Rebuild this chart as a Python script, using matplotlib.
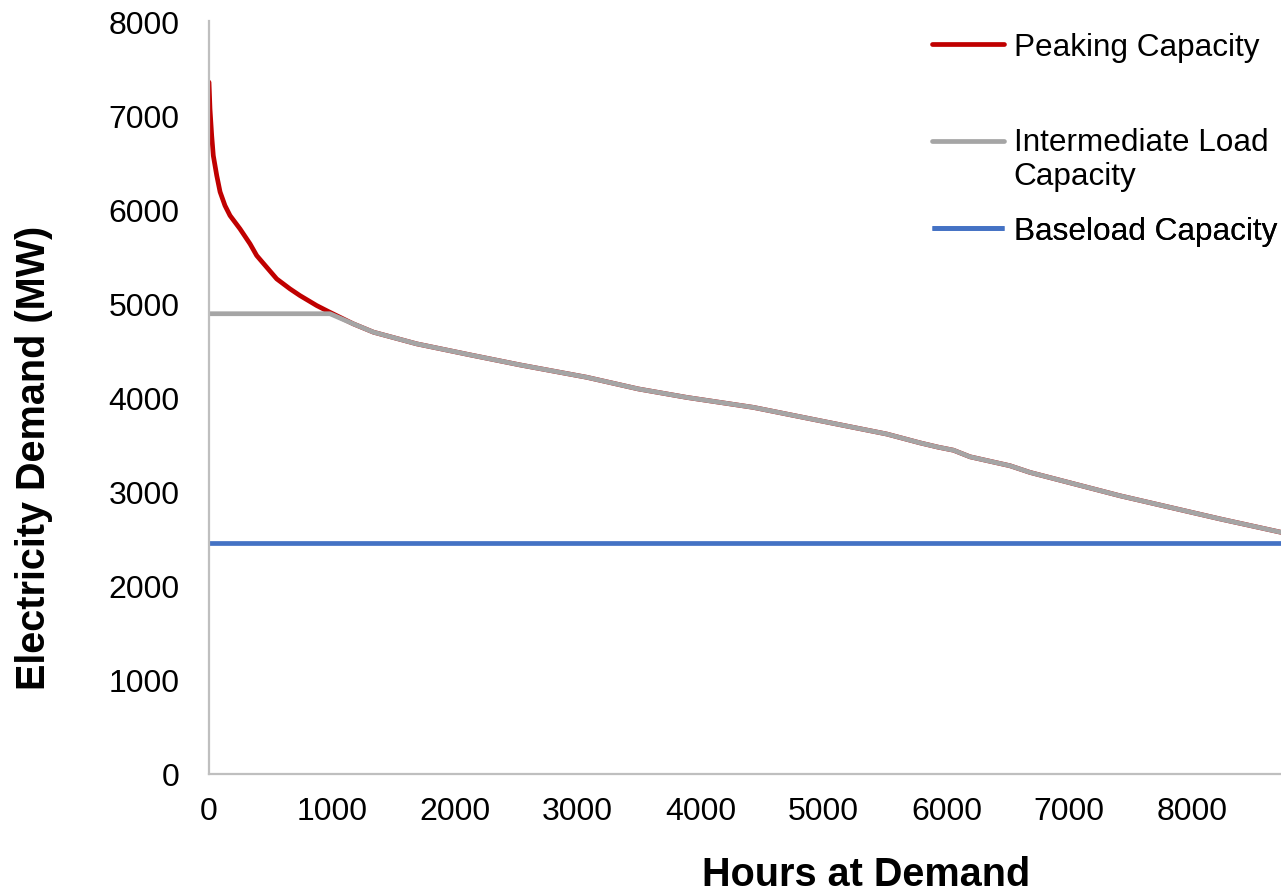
import numpy as np
import matplotlib
matplotlib.use("Agg")
import matplotlib.pyplot as plt
from matplotlib.legend_handler import HandlerLine2D

plt.rcParams['font.family'] = ['Liberation Sans', 'DejaVu Sans']

# ---- data ----
peak_hours = [0, 8, 22, 35, 63, 90, 130, 171, 252, 334, 388, 470, 551, 659, 740, 876,
              984, 1175, 1338, 1690, 2124, 2531, 3073, 3493, 3887, 4429, 4972, 5514,
              5785, 5934, 6057, 6192, 6517, 6680, 7412, 8226, 8722, 8760]
peak_demand = [7350, 7067, 6781, 6570, 6358, 6185, 6039, 5933, 5792, 5632, 5508, 5383,
               5260, 5154, 5083, 4977, 4905, 4782, 4694, 4570, 4453, 4346, 4215, 4091,
               4001, 3895, 3753, 3612, 3518, 3472, 3440, 3370, 3275, 3204, 2956, 2710,
               2568, 2555]

inter_hours = [0, 984, 1175, 1338, 1690, 2124, 2531, 3073, 3493, 3887, 4429, 4972,
               5514, 5785, 5934, 6057, 6192, 6517, 6680, 7412, 8226, 8722, 8760]
inter_demand = [4890, 4890, 4782, 4694, 4570, 4453, 4346, 4215, 4091, 4001, 3895, 3753,
                3612, 3518, 3472, 3440, 3370, 3275, 3204, 2956, 2710, 2568, 2555]

base_hours = [0, 8760]
base_demand = [2450, 2450]

x_ticks = [0, 1000, 2000, 3000, 4000, 5000, 6000, 7000, 8000]
y_ticks = [0, 1000, 2000, 3000, 4000, 5000, 6000, 7000, 8000]

labels = ["Peaking Capacity", "Intermediate Load\nCapacity", "Baseload Capacity"]
colors = ["#C00000", "#A5A5A5", "#4472C4"]

# ---- figure ----
W, H = 1281, 895
fig = plt.figure(figsize=(W / 100, H / 100), dpi=100)
ax_l, ax_r, ax_t, ax_b = 209, 1281, 22, 775
ax = fig.add_axes([ax_l / W, 1 - ax_b / H, (ax_r - ax_l) / W, (ax_b - ax_t) / H])

lw = 3.4
l1, = ax.plot(peak_hours, peak_demand, color=colors[0], lw=lw,
              solid_capstyle='round', solid_joinstyle='round')
l2, = ax.plot(inter_hours, inter_demand, color=colors[1], lw=lw,
              solid_capstyle='round', solid_joinstyle='round')
l3, = ax.plot(base_hours, base_demand, color=colors[2], lw=lw, solid_capstyle='butt')

ax.set_xlim(0, 8722)
ax.set_ylim(0, 8000)
ax.set_xticks(x_ticks)
ax.set_yticks(y_ticks)
ax.tick_params(axis='both', length=0, labelsize=23, colors='black')
ax.tick_params(axis='x', pad=16)
ax.tick_params(axis='y', pad=21)

for s in ['top', 'right']:
    ax.spines[s].set_visible(False)
for s in ['left', 'bottom']:
    ax.spines[s].set_color('#BFBFBF')
    ax.spines[s].set_linewidth(1.6)

ax.set_xlabel("Hours at Demand", fontsize=28.5, fontweight='bold', va='center')
ax.xaxis.set_label_coords((866 - ax_l) / (ax_r - ax_l), -(875 - ax_b) / (ax_b - ax_t))
ax.set_ylabel("Electricity Demand (MW)", fontsize=28.5, fontweight='bold', va='center')
ax.yaxis.set_label_coords((34.5 - ax_l) / (ax_r - ax_l), (ax_b - 457.5) / (ax_b - ax_t))


class ShiftedLine(HandlerLine2D):
    def __init__(self, shift_pts=0.0, **kw):
        super().__init__(**kw)
        self.shift_pts = shift_pts

    def create_artists(self, legend, orig_handle, xdescent, ydescent, width, height,
                       fontsize, trans):
        arts = super().create_artists(legend, orig_handle, xdescent, ydescent, width,
                                      height, fontsize, trans)
        for a in arts:
            a.set_ydata(np.asarray(a.get_ydata(), dtype=float) + self.shift_pts)
        return arts


leg_x = 931.7 / W
leg_specs = [(l1, labels[0], 48.3, 0.0),
             (l2, labels[1], 160.0, 13.0),
             (l3, labels[2], 232.0, 0.0)]
for handle, lab, ypx, shift in leg_specs:
    leg = ax.legend([handle], [lab], loc='center left',
                    bbox_to_anchor=(leg_x, 1 - ypx / H), bbox_transform=fig.transFigure,
                    frameon=False, fontsize=22.7, handlelength=2.3, handletextpad=0.3,
                    borderpad=0, borderaxespad=0,
                    handler_map={handle: ShiftedLine(shift_pts=shift)})
    ax.add_artist(leg)

fig.savefig("out.png", dpi=100)
